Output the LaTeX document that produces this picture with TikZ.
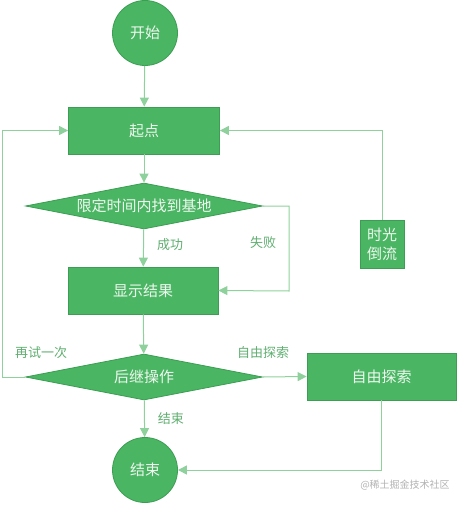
\documentclass[tikz,border=0pt]{standalone}
\usepackage{fontspec}
\newfontfamily\cjk{Noto Sans CJK SC}
\usetikzlibrary{shapes.geometric,arrows.meta}
\definecolor{nodefill}{HTML}{4AB563}
\definecolor{nodeline}{HTML}{3C9E53}
\definecolor{edgecol}{HTML}{8ED19C}
\definecolor{labcol}{HTML}{5FAE70}
\definecolor{txtcol}{HTML}{EEF8EF}
\begin{document}
\begin{tikzpicture}[x=1pt,y=-1pt,
  base/.style={fill=nodefill,draw=nodeline,line width=0.8pt,text=txtcol,font=\cjk\fontsize{15}{18}\selectfont,inner sep=0pt},
  circ/.style={base,circle,minimum size=65pt},
  rbox/.style={base,rectangle,minimum width=151pt,minimum height=47pt},
  dia/.style={base,diamond,minimum width=237pt,minimum height=46pt,aspect=5.15},
  conn/.style={draw=edgecol,line width=1pt,-{Triangle[width=9pt,length=9pt]}},
  line/.style={draw=edgecol,line width=1pt},
  lab/.style={text=labcol,font=\cjk\fontsize{13}{15}\selectfont,inner sep=0pt}]
\useasboundingbox (0,0) rectangle (461,505);
\node[circ] (start) at (145,33) {开始};
\node[rbox] (origin) at (144,130.5) {起点};
\node[dia] (find) at (144,206) {限定时间内找到基地};
\node[rbox,minimum width=150pt] (show) at (143,290.5) {显示结果};
\node[dia] (next) at (144,377) {后继操作};
\node[rbox,minimum width=149pt] (free) at (381.5,376.5) {自由探索};
\node[circ] (end) at (145,470) {结束};
\node[base,rectangle,minimum width=44pt,minimum height=48pt,align=center,font=\cjk\fontsize{15}{19}\selectfont] (back) at (382,244) {时光\\倒流};
\coordinate (failc) at (289,291);
\coordinate (retryc) at (2,130.5);
\coordinate (freec) at (382,470);
\draw[conn] (start) -- (origin);
\draw[conn] (origin) -- (find);
\draw[conn] (find) -- node[lab,right,xshift=13pt,yshift=3pt]{成功} (show);
\draw[conn] (find.east) -| (failc) -- (show.east);
\node[lab] (failab) at (263,243) {失败};
\draw[conn] (show) -- (next);
\draw[conn] (next.west) -| (retryc) -- (origin.west);
\node[lab] (retrylab) at (41,353) {再试一次};
\draw[conn] (next.east) -- (free.west);
\node[lab] (freelab) at (263,353) {自由探索};
\draw[conn] (next) -- node[lab,right,xshift=13pt,yshift=0pt]{结束} (end);
\draw[conn] (free.south) |- (end.east);
\draw[conn] (back.north) |- (origin.east);
\node[text=gray!60,font=\cjk\fontsize{10}{12}\selectfont,inner sep=0pt] (wm) at (405,485) {@稀土掘金技术社区};
\end{tikzpicture}
\end{document}
